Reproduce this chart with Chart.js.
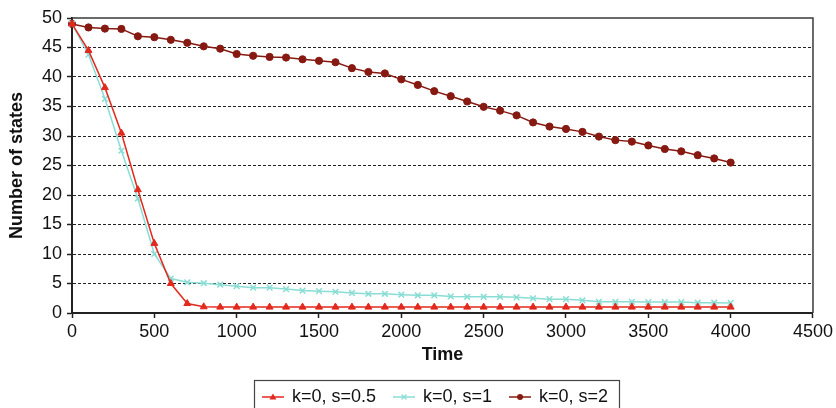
<!DOCTYPE html>
<html>
<head>
<meta charset="utf-8">
<script src="https://cdn.jsdelivr.net/npm/chart.js@4.4.1/dist/chart.umd.min.js"></script>
<style>
  html, body { margin: 0; padding: 0; background: #fff; overflow: hidden; }
  #wrap { width: 836px; height: 408px; position: relative; }
</style>
</head>
<body>
<div id="wrap"><canvas id="c" width="836" height="408"></canvas></div>
<script>
// ---- data ----
const times = [0,100,200,300,400,500,600,700,800,900,1000,1100,1200,1300,1400,1500,1600,1700,1800,1900,2000,
               2100,2200,2300,2400,2500,2600,2700,2800,2900,3000,3100,3200,3300,3400,3500,3600,3700,3800,3900,4000];
const seriesNames = ['k=0, s=0.5', 'k=0, s=1', 'k=0, s=2'];
const s05 = [49,44.5,38.2,30.5,20.9,11.8,5.0,1.6,1.05,1.0,1.0,1.0,1.0,1.0,1.0,1.0,1.0,1.0,1.0,1.0,1.0,
             1.0,1.0,1.0,1.0,1.0,1.0,1.0,1.0,1.0,1.0,1.0,1.0,1.0,1.0,1.0,1.0,1.0,1.0,1.0,1.0];
const s1  = [49,43.8,36.3,27.5,19.4,10.0,5.85,5.2,5.05,4.8,4.55,4.3,4.3,4.05,3.8,3.7,3.6,3.4,3.25,3.25,3.1,
             3.0,3.0,2.8,2.75,2.75,2.75,2.65,2.5,2.35,2.35,2.15,1.9,1.9,1.9,1.85,1.85,1.85,1.75,1.75,1.7];
const s2  = [49,48.4,48.2,48.15,46.9,46.75,46.3,45.8,45.2,44.8,43.9,43.6,43.4,43.3,43.0,42.75,42.5,41.5,40.85,40.6,39.6,
             38.65,37.6,36.75,35.85,34.95,34.3,33.5,32.3,31.6,31.2,30.7,29.9,29.3,29.05,28.4,27.8,27.4,26.75,26.2,25.5];
const xTickLabels = ['0','500','1000','1500','2000','2500','3000','3500','4000','4500'];
const yTickLabels = ['0','5','10','15','20','25','30','35','40','45','50'];
const xTitle = 'Time';
const yTitle = 'Number of states';

// ---- styling ----
const FONT = '"Liberation Sans", Arial, Helvetica, sans-serif';
const colors = ['#E2291E', '#8ADDD4', '#861A12'];
const styles = ['triangle', 'crossRot', 'circle'];
const radii = [4, 4, 3.6];

function legendSample(color, style) {
  const c = document.createElement('canvas');
  c.width = 22; c.height = 12;
  const g = c.getContext('2d');
  g.strokeStyle = color; g.lineWidth = 1.5;
  g.beginPath(); g.moveTo(0, 6); g.lineTo(22, 6); g.stroke();
  g.fillStyle = color;
  if (style === 'triangle') {
    g.beginPath(); g.moveTo(11, 2.5); g.lineTo(14.5, 8.5); g.lineTo(7.5, 8.5); g.closePath(); g.fill();
  } else if (style === 'crossRot') {
    g.lineWidth = 1.2;
    g.beginPath(); g.moveTo(8.5, 3.5); g.lineTo(13.5, 8.5); g.moveTo(13.5, 3.5); g.lineTo(8.5, 8.5); g.stroke();
  } else {
    g.beginPath(); g.arc(11, 6, 3, 0, Math.PI * 2); g.fill();
  }
  return c;
}

const allSeries = [s05, s1, s2];
const datasets = allSeries.map((vals, k) => ({
  label: seriesNames[k],
  data: times.map((t, i) => ({ x: t, y: vals[i] })),
  borderColor: colors[k],
  backgroundColor: colors[k],
  borderWidth: 1.5,
  pointStyle: styles[k],
  pointRadius: radii[k],
  pointBorderWidth: k === 1 ? 1.5 : 1,
  pointBackgroundColor: colors[k],
  pointBorderColor: colors[k],
  tension: 0,
  fill: false,
  clip: false
}));

const LEGEND_CENTER = 435.5;

const layoutPlugin = {
  id: 'layoutFix',
  afterInit(chart) {
    const lg = chart.legend;
    const orig = lg.fit.bind(lg);
    lg.fit = function () { orig(); this.height = 38; };
  },
  afterLayout(chart) {
    const lg = chart.legend;
    const shift = LEGEND_CENTER - (lg.left + lg.right) / 2;
    lg.left += shift; lg.right += shift;
  },
  afterDraw(chart) {
    const ctx = chart.ctx;
    const a = chart.chartArea;
    ctx.save();
    // plot frame top & right
    ctx.strokeStyle = '#3a3a3a';
    ctx.lineWidth = 1.5;
    ctx.beginPath();
    ctx.moveTo(a.left, a.top); ctx.lineTo(a.right, a.top); ctx.lineTo(a.right, a.bottom);
    ctx.stroke();
    // legend box
    const lg = chart.legend;
    const pad = lg.options.labels.padding;
    const start = (lg.left + pad + lg.right - lg.lineWidths[0]) / 2;
    const end = start + lg.lineWidths[0] - pad;
    ctx.strokeStyle = '#444';
    ctx.lineWidth = 1.2;
    ctx.strokeRect(Math.round(start - 9) + 0.5, 380.5, Math.round(end - start + 20), 40);
    ctx.restore();
  }
};

new Chart(document.getElementById('c'), {
  type: 'line',
  data: { datasets },
  plugins: [layoutPlugin],
  options: {
    responsive: false,
    animation: false,
    devicePixelRatio: 1,
    layout: { padding: { top: 18, right: 23, left: 0, bottom: 0 } },
    plugins: {
      tooltip: { enabled: false },
      legend: {
        position: 'bottom',
        align: 'center',
        labels: {
          usePointStyle: true,
          pointStyleWidth: 20,
          padding: 18,
          color: '#111',
          font: { family: FONT, size: 18 },
          generateLabels(chart) {
            return chart.data.datasets.map((ds, i) => ({
              text: ds.label,
              pointStyle: legendSample(colors[i], styles[i]),
              fillStyle: colors[i],
              strokeStyle: colors[i],
              lineWidth: 0,
              hidden: false,
              datasetIndex: i,
              fontColor: '#111'
            }));
          }
        }
      }
    },
    scales: {
      x: {
        type: 'linear',
        min: 0, max: 4500,
        afterFit(s) { s.height = 57; },
        ticks: {
          stepSize: 500,
          padding: 3,
          color: '#111',
          font: { family: FONT, size: 18 },
          maxRotation: 0,
          autoSkip: false,
          callback: (v, i) => xTickLabels[i]
        },
        grid: { drawOnChartArea: false, drawTicks: true, tickLength: 5, tickColor: '#222', tickWidth: 1.5 },
        border: { display: true, color: '#222', width: 2 },
        title: { display: true, text: xTitle, color: '#111', font: { family: FONT, size: 18, weight: 'bold' }, padding: { top: 0, bottom: 4 } }
      },
      y: {
        min: 0, max: 50,
        afterFit(s) { s.width = 72; },
        ticks: {
          stepSize: 5,
          padding: 5,
          color: '#111',
          font: { family: FONT, size: 18 },
          autoSkip: false,
          callback: (v, i) => yTickLabels[i]
        },
        grid: {
          drawOnChartArea: true,
          drawTicks: true,
          tickLength: 5,
          tickColor: '#222',
          tickWidth: 1.5,
          lineWidth: 1,
          color: (c) => (c.tick && (c.tick.value === 0 || c.tick.value === 50)) ? 'rgba(0,0,0,0)' : '#222'
        },
        border: { display: true, color: '#222', width: 2, dash: [3, 2] },
        title: { display: true, text: yTitle, color: '#111', font: { family: FONT, size: 18, weight: 'bold' }, padding: { top: 6, bottom: 0 } }
      }
    }
  }
});
</script>
</body>
</html>
